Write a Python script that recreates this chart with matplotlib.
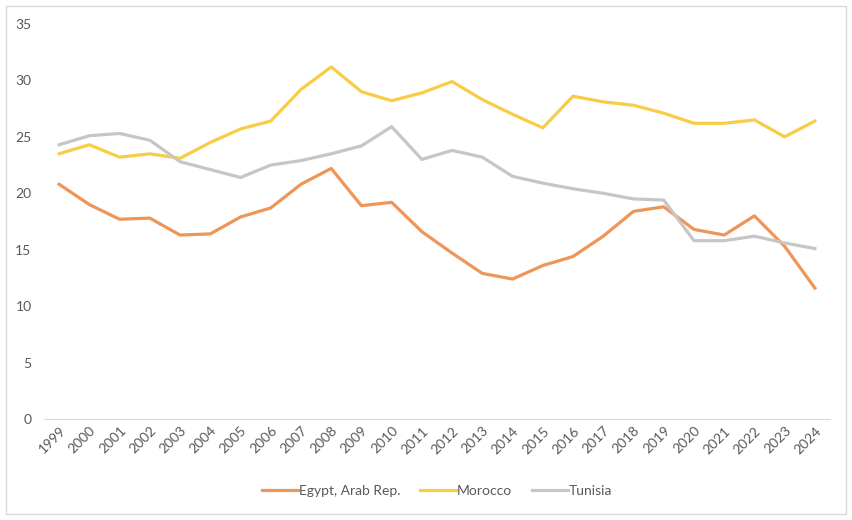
import matplotlib.pyplot as plt
import matplotlib.patches as patches
import numpy as np

years = [str(y) for y in range(1999, 2025)]
egypt = [20.8, 19.0, 17.7, 17.8, 16.3, 16.4, 17.9, 18.7, 20.8, 22.2, 18.9, 19.2, 16.6,
         14.7, 12.9, 12.4, 13.6, 14.4, 16.2, 18.4, 18.8, 16.8, 16.3, 18.0, 15.3, 11.6]
morocco = [23.5, 24.3, 23.2, 23.5, 23.1, 24.5, 25.7, 26.4, 29.2, 31.2, 29.0, 28.2, 28.9,
           29.9, 28.3, 27.0, 25.8, 28.6, 28.1, 27.8, 27.1, 26.2, 26.2, 26.5, 25.0, 26.4]
tunisia = [24.3, 25.1, 25.3, 24.7, 22.8, 22.1, 21.4, 22.5, 22.9, 23.5, 24.2, 25.9, 23.0,
           23.8, 23.2, 21.5, 20.9, 20.4, 20.0, 19.5, 19.4, 15.8, 15.8, 16.2, 15.6, 15.1]

plt.rcParams['font.family'] = ['Lato', 'DejaVu Sans']
txt = '#595959'

fig = plt.figure(figsize=(8.53, 5.20), dpi=100)
ax = fig.add_axes([44 / 853, 1 - 419 / 520, (830 - 44) / 853, (419 - 24) / 520])

x = np.arange(len(years))
ax.plot(x, egypt, color='#EE9558', lw=2.3, label='Egypt, Arab Rep.', solid_joinstyle='round')
ax.plot(x, morocco, color='#F8CD45', lw=2.3, label='Morocco', solid_joinstyle='round')
ax.plot(x, tunisia, color='#C6C6C6', lw=2.3, label='Tunisia', solid_joinstyle='round')

ax.set_xlim(-0.5, len(years) - 0.5)
ax.set_ylim(0, 35)
ax.set_yticks(range(0, 36, 5))
ax.set_xticks(x)
ax.set_xticklabels(years, rotation=45, ha='right', rotation_mode='anchor')
ax.tick_params(axis='both', length=0, colors=txt, labelsize=10)
ax.tick_params(axis='y', pad=9)
ax.tick_params(axis='x', pad=4)
for s in ['top', 'right', 'left']:
    ax.spines[s].set_visible(False)
ax.spines['bottom'].set_color('#D9D9D9')

leg = ax.legend(loc='upper center', bbox_to_anchor=(0.5, -0.135), ncol=3, frameon=False,
                fontsize=10, handlelength=2.6, columnspacing=1.4, handletextpad=0.05)
for t in leg.get_texts():
    t.set_color(txt)

fig.patches.append(patches.Rectangle((6 / 853, 6 / 520), 840 / 853, 508 / 520, transform=fig.transFigure,
                                     fill=False, edgecolor='#D9D9D9', lw=1))

fig.savefig('out.png', dpi=100)
